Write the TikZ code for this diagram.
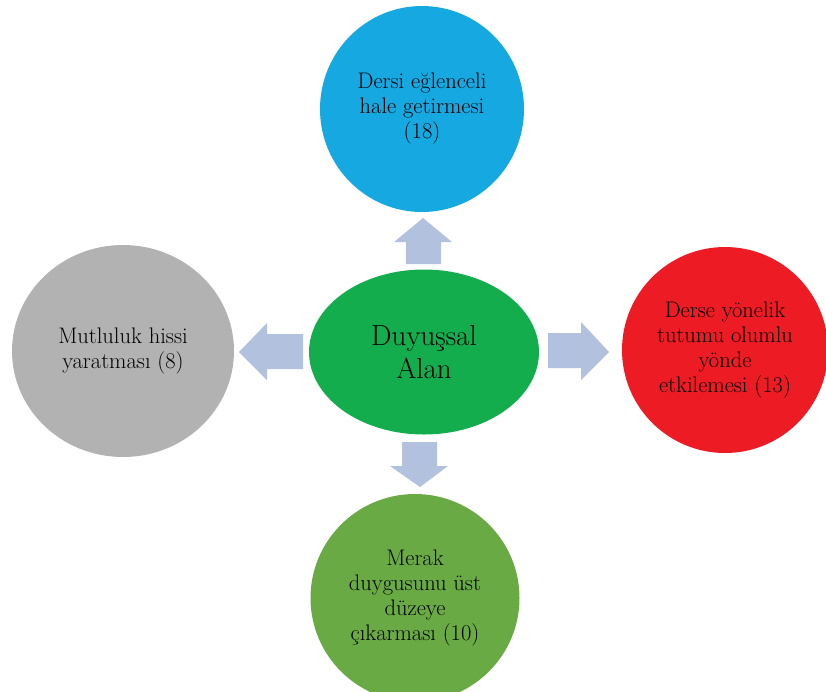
\documentclass[tikz,border=0pt]{standalone}
\usetikzlibrary{shapes.geometric}
\definecolor{cblue}{RGB}{22,169,225}
\definecolor{cgreen}{RGB}{20,173,78}
\definecolor{cgray}{RGB}{178,178,178}
\definecolor{cred}{RGB}{237,28,36}
\definecolor{cleaf}{RGB}{106,170,69}
\definecolor{carrow}{RGB}{178,193,222}
\begin{document}
\begin{tikzpicture}[x=1pt,y=-1pt,
  blob/.style={ellipse, inner sep=0pt, outer sep=0pt, align=center,
    font=\fontsize{22.5}{25}\selectfont, text=black},
  blockarrow/.style={fill=carrow, draw=none}]
\useasboundingbox (0,0) rectangle (826,691);
\clip (0,0) rectangle (826,691);
\node[blob, fill=cblue, minimum width=204pt, minimum height=206pt] (top) at (422,109)
  {Dersi eğlenceli\\hale getirmesi\\(18)};
\node[blob, fill=cgray, minimum width=222pt, minimum height=212pt] (left) at (123,351)
  {Mutluluk hissi\\yaratması (8)};
\node[blob, fill=cred, minimum width=206pt, minimum height=206pt] (right) at (725,350)
  {Derse yönelik\\tutumu olumlu\\yönde\\etkilemesi (13)};
\node[blob, fill=cleaf, minimum width=209pt, minimum height=208pt] (bottom) at (415,598)
  {Merak\\duygusunu üst\\düzeye\\çıkarması (10)};
\node[blob, fill=cgreen, minimum width=230pt, minimum height=165pt,
  font=\fontsize{29}{33}\selectfont] (center) at (424,352) {Duyuşsal\\Alan};
% block arrows
\path[blockarrow] (406,264) -- (406,242) -- (394,242) -- (423,218) -- (452,242) -- (441,242) -- (441,264) -- cycle;
\path[blockarrow] (303,334) -- (267,334) -- (267,323) -- (239,352) -- (267,380) -- (267,369) -- (303,369) -- cycle;
\path[blockarrow] (548,333) -- (581,333) -- (581,322) -- (609,352) -- (581,380) -- (581,368) -- (548,368) -- cycle;
\path[blockarrow] (402,442) -- (402,466) -- (390,466) -- (420,487) -- (448,466) -- (437,466) -- (437,442) -- cycle;
\end{tikzpicture}
\end{document}
